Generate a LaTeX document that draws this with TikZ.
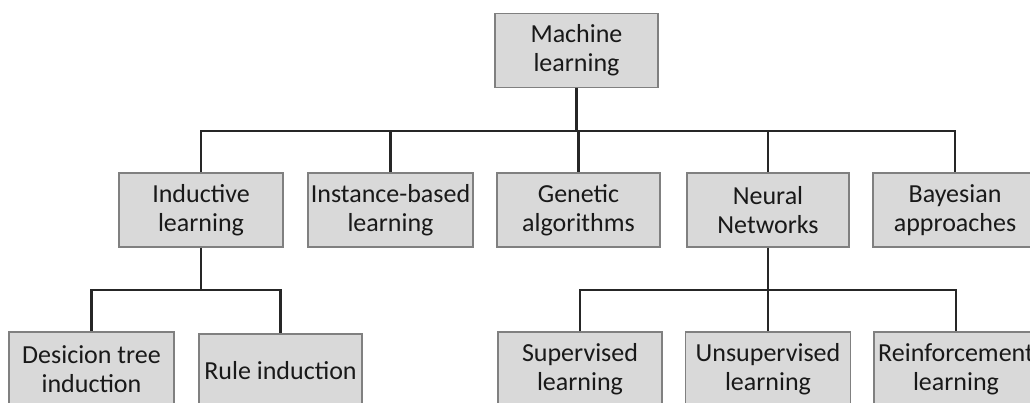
\documentclass[tikz,border=0pt]{standalone}
\usepackage{fontspec}
\setmainfont{Carlito}
\begin{document}
\begin{tikzpicture}[x=1pt,y=-1pt,
  box/.style={draw=black!50,line width=1.4pt,fill=black!15,rectangle,
    minimum height=74pt,inner sep=0pt,align=center,text=black!90,
    font=\fontsize{26}{29}\selectfont},
  conn/.style={draw=black!85,line width=2.3pt}]
\useasboundingbox (0,0) rectangle (1030,403);
\clip (0,0) rectangle (1030,403);
\fill[white] (0,0) rectangle (1030,403);
\node[box,minimum width=163pt] (ml) at (576.5,50.5) {Machine\\learning};
\node[box,minimum width=164pt] (ind) at (201,210) {Inductive\\learning};
\node[box,minimum width=165pt] (inst) at (390.5,210) {Instance-based\\learning};
\node[box,minimum width=163pt] (gen) at (578.5,210) {Genetic\\algorithms};
\node[box,minimum width=162pt] (nn) at (768,210) {Neural\\Networks};
\node[box,minimum width=164pt] (bay) at (955,210) {Bayesian\\approaches};
\node[box,minimum width=165pt] (dt) at (91.5,369) {Desicion tree\\induction};
\node[box,minimum width=163pt] (ri) at (280.5,371) {Rule induction};
\node[box,minimum width=164pt] (sup) at (580,369) {Supervised\\learning};
\node[box,minimum width=165pt] (uns) at (768,369) {Unsupervised\\learning};
\node[box,minimum width=164pt] (rl) at (956,369) {Reinforcement\\learning};
\coordinate (b1) at (576.5,131);
\coordinate (b2) at (201,290);
\coordinate (b3) at (768,290);
\draw[conn] (ml.south) -- (b1);
\draw[conn] (b1) -| (ind.north);
\draw[conn] (b1) -| (inst.north);
\draw[conn] (b1) -| (gen.north);
\draw[conn] (b1) -| (nn.north);
\draw[conn] (b1) -| (bay.north);
\draw[conn] (ind.south) -- (b2);
\draw[conn] (b2) -| (dt.north);
\draw[conn] (b2) -| (ri.north);
\draw[conn] (nn.south) -- (b3);
\draw[conn] (b3) -| (sup.north);
\draw[conn] (b3) -- (uns.north);
\draw[conn] (b3) -| (rl.north);
\end{tikzpicture}
\end{document}
